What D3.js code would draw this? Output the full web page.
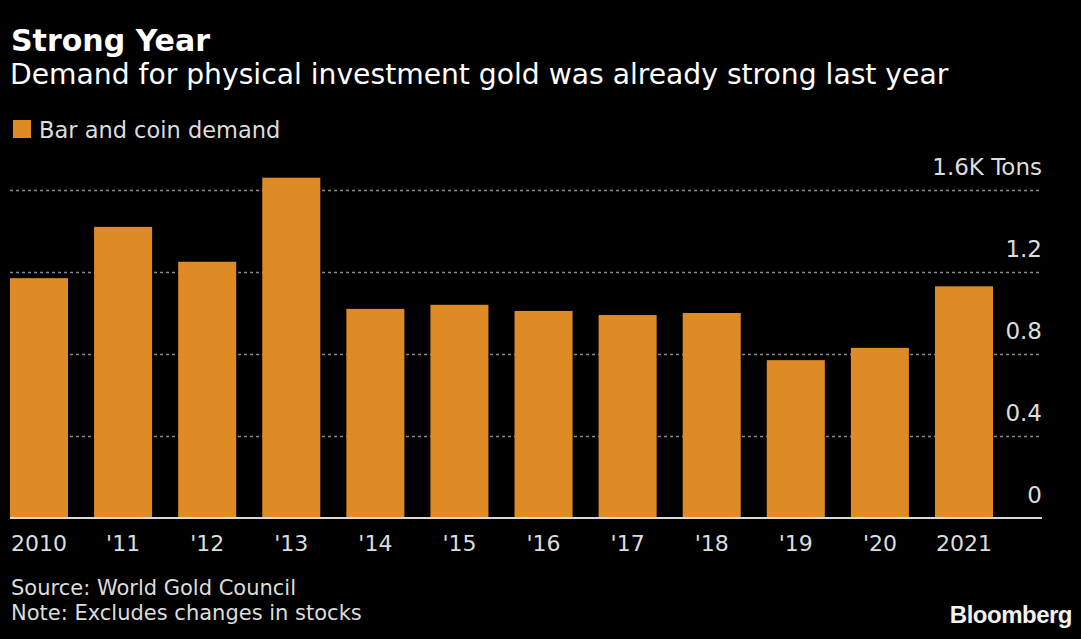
<!DOCTYPE html>
<html>
<head>
<meta charset="utf-8">
<script src="https://cdn.jsdelivr.net/npm/d3@7"></script>
<style>
  html, body { margin: 0; padding: 0; background: #000; }
  svg { display: block; }
</style>
</head>
<body>
<svg id="chart" width="1081" height="639"></svg>
<script>
const categories = ["2010", "'11", "'12", "'13", "'14", "'15", "'16", "'17", "'18", "'19", "'20", "2021"];
const barCoinDemand = [1.17, 1.42, 1.25, 1.66, 1.02, 1.04, 1.01, 0.99, 1.00, 0.77, 0.83, 1.13];
const yTicks = [0, 0.4, 0.8, 1.2, 1.6];
const yTickLabels = ["0", "0.4", "0.8", "1.2", "1.6K Tons"];

const W = 1081, H = 639;
const svg = d3.select("#chart");
svg.append("rect").attr("width", W).attr("height", H).attr("fill", "#000");

const font = "'DejaVu Sans', Verdana, sans-serif";
const barColor = "#de8b25";

const x = d3.scaleBand().domain(categories).range([10, 993]).paddingInner(0.31).paddingOuter(0);
const y = d3.scaleLinear().domain([0, 1.6]).range([518, 190]);
const gridRight = 1042;

// Title, subtitle
svg.append("text").attr("x", 11).attr("y", 51).attr("fill", "#fff")
  .attr("font-family", font).attr("font-weight", "bold").attr("font-size", 30)
  .text("Strong Year");
svg.append("text").attr("x", 10).attr("y", 84).attr("fill", "#fff")
  .attr("font-family", font).attr("font-size", 28.2)
  .text("Demand for physical investment gold was already strong last year");

// Legend
svg.append("rect").attr("x", 13).attr("y", 120).attr("width", 18).attr("height", 18).attr("fill", barColor);
svg.append("text").attr("x", 39).attr("y", 138).attr("fill", "#ddd")
  .attr("font-family", font).attr("font-size", 22.5)
  .text("Bar and coin demand");

// Gridlines
const grid = svg.append("g").call(d3.axisLeft(y).tickValues(yTicks.filter(d => d > 0)).tickSize(-(gridRight - 10)).tickFormat(""))
  .attr("transform", "translate(10,0)");
grid.select(".domain").remove();
grid.selectAll(".tick line").attr("stroke", "#8a8a8a").attr("stroke-width", 1.3).attr("stroke-dasharray", "3,3");

// Bars
svg.append("g").selectAll("rect").data(barCoinDemand).join("rect")
  .attr("x", (d, i) => x(categories[i]))
  .attr("width", x.bandwidth())
  .attr("y", d => y(d))
  .attr("height", d => y(0) - y(d))
  .attr("fill", barColor);

// Baseline
svg.append("line").attr("x1", 10).attr("x2", gridRight).attr("y1", y(0)).attr("y2", y(0))
  .attr("stroke", "#d8d8d8").attr("stroke-width", 2);

// Y tick labels
const yl = svg.append("g").attr("transform", `translate(${gridRight},0)`)
  .call(d3.axisLeft(y).tickValues(yTicks).tickSize(0).tickPadding(0).tickFormat((d, i) => yTickLabels[i]));
yl.select(".domain").remove();
yl.selectAll(".tick text").attr("fill", "#ddd").attr("font-family", font).attr("font-size", 23)
  .attr("dy", -16).attr("text-anchor", "end").attr("dominant-baseline", "alphabetic");

// X axis labels
const xa = svg.append("g").attr("transform", `translate(0,${y(0)})`)
  .call(d3.axisBottom(x).tickSize(0).tickPadding(0));
xa.select(".domain").remove();
xa.selectAll(".tick text").attr("fill", "#ddd").attr("font-family", font).attr("font-size", 22)
  .attr("dy", null).attr("y", 33);

// Footer
svg.append("text").attr("x", 11).attr("y", 595).attr("fill", "#ddd")
  .attr("font-family", font).attr("font-size", 21).text("Source: World Gold Council");
svg.append("text").attr("x", 11).attr("y", 620).attr("fill", "#ddd")
  .attr("font-family", font).attr("font-size", 21).text("Note: Excludes changes in stocks");
svg.append("text").attr("x", 1072).attr("y", 623).attr("fill", "#f2f2f2").attr("text-anchor", "end")
  .attr("font-family", "'Liberation Sans', Arial, sans-serif").attr("font-weight", "bold").attr("font-size", 24)
  .attr("letter-spacing", -0.5)
  .text("Bloomberg");
</script>
</body>
</html>
